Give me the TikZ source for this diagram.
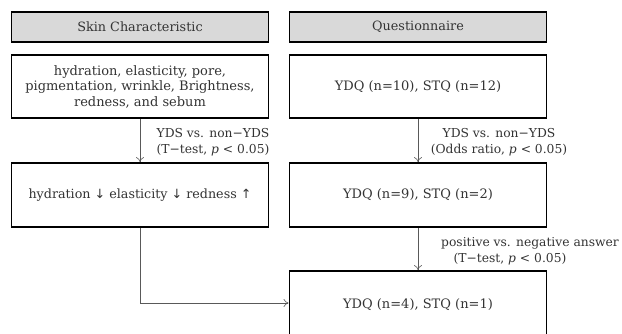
\documentclass[tikz,border=0pt]{standalone}
\usepackage{fontspec}
\setmainfont{DejaVu Serif}
\newfontfamily\arrowfont{DejaVu Sans}
\usetikzlibrary{arrows.meta}
\tikzset{
  hdr/.style={draw=black, line width=1.8pt, fill=gray!30, minimum height=30pt, minimum width=257pt, inner sep=0pt, font=\fontsize{12.8}{15}\selectfont, text=black!80},
  bx/.style={draw=black, line width=1.8pt, fill=white, minimum width=257pt, inner sep=0pt, align=center, text=black!80},
  conn/.style={draw=black!65, line width=0.6pt, -{To[length=5pt,width=8pt]}},
  lbl/.style={align=center, font=\fontsize{12.3}{16}\selectfont, text=black!80, inner sep=0pt}
}
\begin{document}
\begin{tikzpicture}[x=1pt,y=-1pt]
\useasboundingbox (0,0) rectangle (622,333);
\clip (0,0) rectangle (622,333);
\fill[white] (0,0) rectangle (622,333);
\node[hdr] (h1) at (140,27) {Skin Characteristic};
\node[hdr] (h2) at (418,27) {Questionnaire};
\node[bx, minimum height=63pt, font=\fontsize{13}{15.5}\selectfont] (a1) at (140,86.5) {hydration, elasticity, pore,\\pigmentation, wrinkle, Brightness,\\redness, and sebum};
\node[bx, minimum height=63pt, font=\fontsize{13}{15}\selectfont] (b1) at (418,86.5) {YDQ (n=10), STQ (n=12)};
\node[bx, minimum height=64pt, font=\fontsize{12.7}{15}\selectfont] (a2) at (140,195) {hydration {\arrowfont↓} elasticity {\arrowfont↓} redness {\arrowfont↑}};
\node[bx, minimum height=64pt, font=\fontsize{13}{15}\selectfont] (b2) at (418,195) {YDQ (n=9), STQ (n=2)};
\node[bx, minimum height=68pt, font=\fontsize{13}{15}\selectfont] (b3) at (418,305) {YDQ (n=4), STQ (n=1)};
\draw[conn] (a1.south) -- (a2.north);
\draw[conn] (b1.south) -- (b2.north);
\draw[conn] (b2.south) -- (b3.north);
\coordinate (bend) at (140,303);
\draw[conn] (a2.south) -- (bend) -- (b3.west |- bend);
\node[lbl] (l1) at (213,142) {YDS vs. non−YDS\\(T−test, \textit{p} < 0.05)};
\node[lbl] (l2) at (499,142) {YDS vs. non−YDS\\(Odds ratio, \textit{p} < 0.05)};
\node[lbl] (l3a) at (530,243) {positive vs. negative answer};
\node[lbl] (l3b) at (510,259) {(T−test, \textit{p} < 0.05)};
\end{tikzpicture}
\end{document}
